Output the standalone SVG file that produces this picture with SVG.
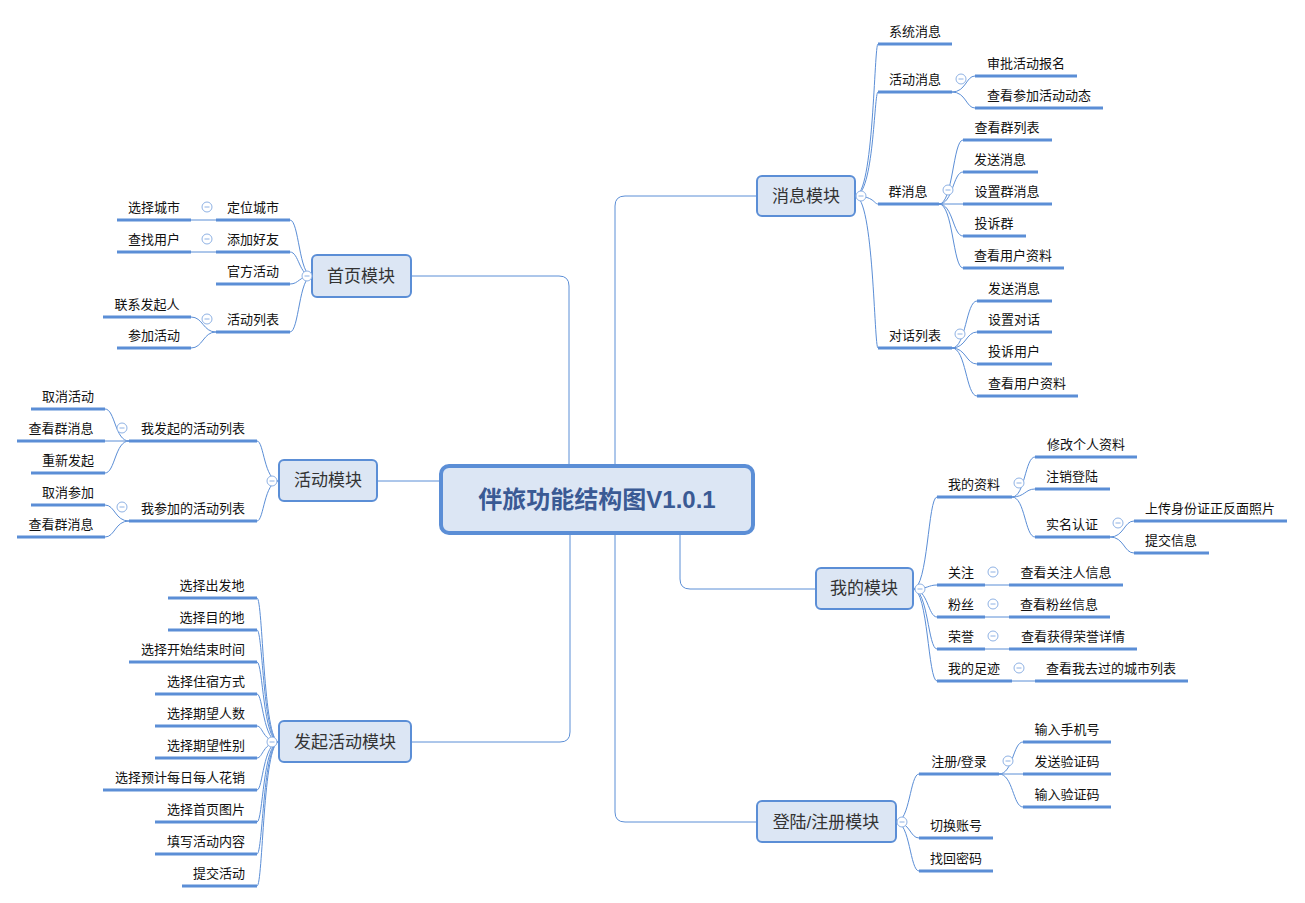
<svg xmlns="http://www.w3.org/2000/svg" xmlns:xlink="http://www.w3.org/1999/xlink" width="1305" height="903" viewBox="0 0 1305 903">
<style>
text{font-family:"Liberation Sans","Noto Sans CJK SC",sans-serif;}
.t{font-size:13px;fill:#111;text-anchor:middle;}
.u{stroke:#5b8ed6;stroke-width:3;fill:none;}
.c{stroke:#5b8ed6;stroke-width:1;fill:none;}
.m rect{fill:#dce6f4;stroke:#5b8ed6;stroke-width:2;}
.m text{font-size:17px;fill:#333;text-anchor:middle;}
.col circle{fill:#fff;stroke:#8fb2e4;stroke-width:1;}
.col line{stroke:#8fb2e4;stroke-width:1;}
</style>
<defs>
<g id="col" class="col"><circle cx="0" cy="0" r="5"/><line x1="-2.5" y1="0" x2="2.5" y2="0"/></g>
</defs>
<rect width="1305" height="903" fill="#fff"/>
<g id="connectors">
<path class="c" d="M569,466 L569,286 Q569,276 559,276 L411,276"/>
<path class="c" d="M615,466 L615,206 Q615,196 625,196 L757,196"/>
<path class="c" d="M441,481 L377,481"/>
<path class="c" d="M570,533 L570,732 Q570,742 560,742 L411,742"/>
<path class="c" d="M680,533 L680,579 Q680,589 690,589 L816,589"/>
<path class="c" d="M615,533 L615,812 Q615,822 625,822 L757,822"/>
<!-- 消息模块 -->
<path class="c" d="M855,196 C874,196 874,44 878,44"/>
<path class="c" d="M855,196 C874,196 874,92 878,92"/>
<path class="c" d="M855,196 C874,196 874,204 878,204"/>
<path class="c" d="M855,196 C874,196 874,348 878,348"/>
<path class="c" d="M952,92 C966,92 966,76 975,76"/>
<path class="c" d="M952,92 C966,92 966,108 975,108"/>
<path class="c" d="M939,204 C953,204 953,140 963,140"/>
<path class="c" d="M939,204 C953,204 953,172 963,172"/>
<path class="c" d="M939,204 L963,204"/>
<path class="c" d="M939,204 C953,204 953,236 963,236"/>
<path class="c" d="M939,204 C953,204 953,268 963,268"/>
<path class="c" d="M952,348 C966,348 966,301 977,301"/>
<path class="c" d="M952,348 C966,348 966,332 977,332"/>
<path class="c" d="M952,348 C966,348 966,364 977,364"/>
<path class="c" d="M952,348 C966,348 966,396 977,396"/>
<!-- 首页模块 -->
<path class="c" d="M312,276 C299,276 299,220 290,220"/>
<path class="c" d="M312,276 C299,276 299,252 290,252"/>
<path class="c" d="M312,276 C299,276 299,284 290,284"/>
<path class="c" d="M312,276 C299,276 299,332 290,332"/>
<path class="c" d="M216,220 L191,220"/>
<path class="c" d="M216,252 L191,252"/>
<path class="c" d="M216,332 C203,332 203,317 191,317"/>
<path class="c" d="M216,332 C203,332 203,348 191,348"/>
<!-- 活动模块 -->
<path class="c" d="M279,481 C264,481 264,441 257,441"/>
<path class="c" d="M279,481 C264,481 264,521 257,521"/>
<path class="c" d="M129,441 C115,441 115,409 105,409"/>
<path class="c" d="M129,441 L105,441"/>
<path class="c" d="M129,441 C115,441 115,473 105,473"/>
<path class="c" d="M129,521 C115,521 115,505 105,505"/>
<path class="c" d="M129,521 C115,521 115,537 105,537"/>
<!-- 发起活动模块 -->
<path class="c" d="M279,742 C263,742 263,598 257,598"/>
<path class="c" d="M279,742 C263,742 263,630 257,630"/>
<path class="c" d="M279,742 C263,742 263,662 257,662"/>
<path class="c" d="M279,742 C263,742 263,694 257,694"/>
<path class="c" d="M279,742 C263,742 263,726 257,726"/>
<path class="c" d="M279,742 C263,742 263,758 257,758"/>
<path class="c" d="M279,742 C263,742 263,790 257,790"/>
<path class="c" d="M279,742 C263,742 263,822 257,822"/>
<path class="c" d="M279,742 C263,742 263,854 257,854"/>
<path class="c" d="M279,742 C263,742 263,886 257,886"/>
<!-- 我的模块 -->
<path class="c" d="M913,589 C928,589 928,497 937,497"/>
<path class="c" d="M913,589 C928,589 928,585 937,585"/>
<path class="c" d="M913,589 C928,589 928,617 937,617"/>
<path class="c" d="M913,589 C928,589 928,649 937,649"/>
<path class="c" d="M913,589 C928,589 928,681 937,681"/>
<path class="c" d="M1012,497 C1025,497 1025,457 1035,457"/>
<path class="c" d="M1012,497 C1025,497 1025,489 1035,489"/>
<path class="c" d="M1012,497 C1025,497 1025,537 1035,537"/>
<path class="c" d="M1110,537 C1124,537 1124,521 1134,521"/>
<path class="c" d="M1110,537 C1124,537 1124,553 1134,553"/>
<path class="c" d="M985,585 L1009,585"/>
<path class="c" d="M985,617 L1009,617"/>
<path class="c" d="M985,649 L1009,649"/>
<path class="c" d="M1012,681 L1035,681"/>
<!-- 登陆/注册模块 -->
<path class="c" d="M896,822 C910,822 910,774 919,774"/>
<path class="c" d="M896,822 C910,822 910,838 919,838"/>
<path class="c" d="M896,822 C910,822 910,871 919,871"/>
<path class="c" d="M999,774 C1013,774 1013,742 1023,742"/>
<path class="c" d="M999,774 L1023,774"/>
<path class="c" d="M999,774 C1013,774 1013,807 1023,807"/>
</g>

<g id="center">
<rect x="441" y="466" width="312" height="67" rx="8" fill="#dce6f4" stroke="#5b8ed6" stroke-width="4"/>
<text x="597" y="508" font-size="24" font-weight="bold" fill="#3a5a94" text-anchor="middle">伴旅功能结构图V1.0.1</text>
</g>

<!-- Module nodes -->
<g id="m-msg" class="m"><rect x="757" y="176" width="98" height="40" rx="5"/><text x="806" y="202">消息模块</text><use href="#col" x="861" y="196"/></g>
<g id="m-home" class="m"><rect x="312" y="255" width="99" height="42" rx="5"/><text x="361" y="282">首页模块</text><use href="#col" x="307" y="276"/></g>
<g id="m-act" class="m"><rect x="279" y="460" width="98" height="41" rx="5"/><text x="328" y="486">活动模块</text><use href="#col" x="272" y="481"/></g>
<g id="m-launch" class="m"><rect x="279" y="721" width="132" height="41" rx="5"/><text x="345" y="748">发起活动模块</text><use href="#col" x="272" y="742"/></g>
<g id="m-mine" class="m"><rect x="816" y="568" width="97" height="41" rx="5"/><text x="864" y="594">我的模块</text><use href="#col" x="920" y="589"/></g>
<g id="m-login" class="m"><rect x="757" y="801" width="139" height="41" rx="5"/><text x="826" y="828">登陆/注册模块</text><use href="#col" x="902" y="822"/></g>

<!-- 消息模块 children -->
<g id="n-sys"><line class="u" x1="878" y1="44" x2="952" y2="44"/><text class="t" x="915" y="36">系统消息</text></g>
<g id="n-actmsg"><line class="u" x1="878" y1="92" x2="952" y2="92"/><text class="t" x="915" y="84">活动消息</text><use href="#col" x="961" y="79"/></g>
<g id="n-approve"><line class="u" x1="975" y1="76" x2="1077" y2="76"/><text class="t" x="1026" y="68">审批活动报名</text></g>
<g id="n-viewdyn"><line class="u" x1="975" y1="108" x2="1103" y2="108"/><text class="t" x="1039" y="100">查看参加活动动态</text></g>
<g id="n-group"><line class="u" x1="878" y1="204" x2="939" y2="204"/><text class="t" x="908" y="196">群消息</text><use href="#col" x="948" y="190"/></g>
<g id="n-g1"><line class="u" x1="963" y1="140" x2="1052" y2="140"/><text class="t" x="1007" y="132">查看群列表</text></g>
<g id="n-g2"><line class="u" x1="963" y1="172" x2="1038" y2="172"/><text class="t" x="1000" y="164">发送消息</text></g>
<g id="n-g3"><line class="u" x1="963" y1="204" x2="1052" y2="204"/><text class="t" x="1007" y="196">设置群消息</text></g>
<g id="n-g4"><line class="u" x1="963" y1="236" x2="1026" y2="236"/><text class="t" x="994" y="228">投诉群</text></g>
<g id="n-g5"><line class="u" x1="963" y1="268" x2="1064" y2="268"/><text class="t" x="1013" y="260">查看用户资料</text></g>
<g id="n-dlg"><line class="u" x1="878" y1="348" x2="952" y2="348"/><text class="t" x="915" y="340">对话列表</text><use href="#col" x="960" y="334"/></g>
<g id="n-d1"><line class="u" x1="977" y1="301" x2="1052" y2="301"/><text class="t" x="1014" y="293">发送消息</text></g>
<g id="n-d2"><line class="u" x1="977" y1="332" x2="1052" y2="332"/><text class="t" x="1014" y="324">设置对话</text></g>
<g id="n-d3"><line class="u" x1="977" y1="364" x2="1052" y2="364"/><text class="t" x="1014" y="356">投诉用户</text></g>
<g id="n-d4"><line class="u" x1="977" y1="396" x2="1078" y2="396"/><text class="t" x="1027" y="388">查看用户资料</text></g>

<!-- 首页模块 children -->
<g id="n-loc"><line class="u" x1="216" y1="220" x2="290" y2="220"/><text class="t" x="253" y="212">定位城市</text><use href="#col" x="207" y="207"/></g>
<g id="n-city"><line class="u" x1="117" y1="220" x2="191" y2="220"/><text class="t" x="154" y="212">选择城市</text></g>
<g id="n-addf"><line class="u" x1="216" y1="252" x2="290" y2="252"/><text class="t" x="253" y="244">添加好友</text><use href="#col" x="207" y="239"/></g>
<g id="n-findu"><line class="u" x1="117" y1="252" x2="191" y2="252"/><text class="t" x="154" y="244">查找用户</text></g>
<g id="n-offi"><line class="u" x1="216" y1="284" x2="290" y2="284"/><text class="t" x="253" y="276">官方活动</text></g>
<g id="n-actlist"><line class="u" x1="216" y1="332" x2="290" y2="332"/><text class="t" x="253" y="324">活动列表</text><use href="#col" x="207" y="319"/></g>
<g id="n-contact"><line class="u" x1="103" y1="317" x2="191" y2="317"/><text class="t" x="147" y="309">联系发起人</text></g>
<g id="n-join"><line class="u" x1="117" y1="348" x2="191" y2="348"/><text class="t" x="154" y="340">参加活动</text></g>

<!-- 活动模块 children -->
<g id="n-mylaunch"><line class="u" x1="129" y1="441" x2="257" y2="441"/><text class="t" x="193" y="433">我发起的活动列表</text><use href="#col" x="122" y="428"/></g>
<g id="n-l1"><line class="u" x1="31" y1="409" x2="105" y2="409"/><text class="t" x="68" y="401">取消活动</text></g>
<g id="n-l2"><line class="u" x1="17" y1="441" x2="105" y2="441"/><text class="t" x="61" y="433">查看群消息</text></g>
<g id="n-l3"><line class="u" x1="31" y1="473" x2="105" y2="473"/><text class="t" x="68" y="465">重新发起</text></g>
<g id="n-myjoin"><line class="u" x1="129" y1="521" x2="257" y2="521"/><text class="t" x="193" y="513">我参加的活动列表</text><use href="#col" x="122" y="507"/></g>
<g id="n-j1"><line class="u" x1="31" y1="505" x2="105" y2="505"/><text class="t" x="68" y="497">取消参加</text></g>
<g id="n-j2"><line class="u" x1="17" y1="537" x2="105" y2="537"/><text class="t" x="61" y="529">查看群消息</text></g>

<!-- 发起活动模块 children -->
<g id="n-s1"><line class="u" x1="168" y1="598" x2="257" y2="598"/><text class="t" x="212" y="590">选择出发地</text></g>
<g id="n-s2"><line class="u" x1="168" y1="630" x2="257" y2="630"/><text class="t" x="212" y="622">选择目的地</text></g>
<g id="n-s3"><line class="u" x1="129" y1="662" x2="257" y2="662"/><text class="t" x="193" y="654">选择开始结束时间</text></g>
<g id="n-s4"><line class="u" x1="155" y1="694" x2="257" y2="694"/><text class="t" x="206" y="686">选择住宿方式</text></g>
<g id="n-s5"><line class="u" x1="155" y1="726" x2="257" y2="726"/><text class="t" x="206" y="718">选择期望人数</text></g>
<g id="n-s6"><line class="u" x1="155" y1="758" x2="257" y2="758"/><text class="t" x="206" y="750">选择期望性别</text></g>
<g id="n-s7"><line class="u" x1="103" y1="790" x2="257" y2="790"/><text class="t" x="180" y="782">选择预计每日每人花销</text></g>
<g id="n-s8"><line class="u" x1="155" y1="822" x2="257" y2="822"/><text class="t" x="206" y="814">选择首页图片</text></g>
<g id="n-s9"><line class="u" x1="155" y1="854" x2="257" y2="854"/><text class="t" x="206" y="846">填写活动内容</text></g>
<g id="n-s10"><line class="u" x1="182" y1="886" x2="257" y2="886"/><text class="t" x="219" y="878">提交活动</text></g>

<!-- 我的模块 children -->
<g id="n-profile"><line class="u" x1="937" y1="497" x2="1012" y2="497"/><text class="t" x="974" y="489">我的资料</text><use href="#col" x="1019" y="483"/></g>
<g id="n-p1"><line class="u" x1="1035" y1="457" x2="1137" y2="457"/><text class="t" x="1086" y="449">修改个人资料</text></g>
<g id="n-p2"><line class="u" x1="1035" y1="489" x2="1110" y2="489"/><text class="t" x="1072" y="481">注销登陆</text></g>
<g id="n-p3"><line class="u" x1="1035" y1="537" x2="1110" y2="537"/><text class="t" x="1072" y="529">实名认证</text><use href="#col" x="1118" y="523"/></g>
<g id="n-p31"><line class="u" x1="1134" y1="521" x2="1287" y2="521"/><text class="t" x="1210" y="513">上传身份证正反面照片</text></g>
<g id="n-p32"><line class="u" x1="1134" y1="553" x2="1209" y2="553"/><text class="t" x="1171" y="545">提交信息</text></g>
<g id="n-follow"><line class="u" x1="937" y1="585" x2="985" y2="585"/><text class="t" x="961" y="577">关注</text><use href="#col" x="993" y="572"/></g>
<g id="n-f1"><line class="u" x1="1009" y1="585" x2="1123" y2="585"/><text class="t" x="1066" y="577">查看关注人信息</text></g>
<g id="n-fans"><line class="u" x1="937" y1="617" x2="985" y2="617"/><text class="t" x="961" y="609">粉丝</text><use href="#col" x="993" y="604"/></g>
<g id="n-fa1"><line class="u" x1="1009" y1="617" x2="1110" y2="617"/><text class="t" x="1059" y="609">查看粉丝信息</text></g>
<g id="n-honor"><line class="u" x1="937" y1="649" x2="985" y2="649"/><text class="t" x="961" y="641">荣誉</text><use href="#col" x="993" y="636"/></g>
<g id="n-h1"><line class="u" x1="1009" y1="649" x2="1137" y2="649"/><text class="t" x="1073" y="641">查看获得荣誉详情</text></g>
<g id="n-trace"><line class="u" x1="937" y1="681" x2="1012" y2="681"/><text class="t" x="974" y="673">我的足迹</text><use href="#col" x="1019" y="668"/></g>
<g id="n-t1"><line class="u" x1="1035" y1="681" x2="1188" y2="681"/><text class="t" x="1111" y="673">查看我去过的城市列表</text></g>

<!-- 登陆/注册模块 children -->
<g id="n-reg"><line class="u" x1="919" y1="774" x2="999" y2="774"/><text class="t" x="959" y="766">注册/登录</text><use href="#col" x="1008" y="761"/></g>
<g id="n-r1"><line class="u" x1="1023" y1="742" x2="1111" y2="742"/><text class="t" x="1067" y="734">输入手机号</text></g>
<g id="n-r2"><line class="u" x1="1023" y1="774" x2="1111" y2="774"/><text class="t" x="1067" y="766">发送验证码</text></g>
<g id="n-r3"><line class="u" x1="1023" y1="807" x2="1111" y2="807"/><text class="t" x="1067" y="799">输入验证码</text></g>
<g id="n-switch"><line class="u" x1="919" y1="838" x2="993" y2="838"/><text class="t" x="956" y="830">切换账号</text></g>
<g id="n-reset"><line class="u" x1="919" y1="871" x2="993" y2="871"/><text class="t" x="956" y="863">找回密码</text></g>
</svg>
